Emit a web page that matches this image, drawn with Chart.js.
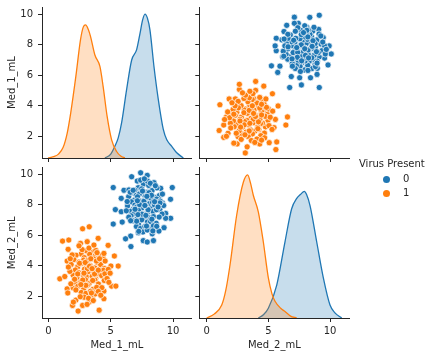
<!DOCTYPE html>
<html><head><meta charset="utf-8">
<script src="https://cdn.jsdelivr.net/npm/chart.js@4"></script>
<style>
html,body{margin:0;padding:0;background:#fff;}
#wrap{position:relative;width:433px;height:357px;overflow:hidden;background:#fff;}
#wrap canvas{position:absolute;left:0;top:0;}
.lg{position:absolute;font-family:"DejaVu Sans";font-size:10px;line-height:12px;color:#262626;white-space:nowrap;}
.dot{position:absolute;width:7px;height:7px;border-radius:50%;}
</style></head>
<body><div id="wrap">
<canvas id="c0" width="433" height="357"></canvas>
<canvas id="c1" width="433" height="357"></canvas>
<canvas id="c2" width="433" height="357"></canvas>
<canvas id="c3" width="433" height="357"></canvas>
</div>
<script>
// ---------------- DATA ----------------
const hueTitle = 'Virus Present';
const hueLevels = ['0', '1'];
const varNames = ['Med_1_mL', 'Med_2_mL'];
const xTickValues = [0, 5, 10];
const yTickValues = [2, 4, 6, 8, 10];
const med1XLimits = [-0.52, 11.50];
const med2XLimits = [-0.60, 11.565];
const med1YLimits = [0.577, 10.48];
const med2YLimits = [0.554, 10.434];
const kdeYLimits = [0, 0.2326];

// class 0 (no virus)
const med1Class0 = [7.40,6.68,7.93,7.80,7.13,8.47,5.20,9.94,9.01,6.06,6.46,5.84,9.80,9.14,5.37,5.84,9.41,9.81,9.41,5.20,5.92,9.28,8.87,8.33,7.21,6.60,6.19,7.61,7.93,8.43,6.62,
 7.62,7.21,8.05,6.93,7.48,7.86,8.32,8.71,6.72,7.05, 7.31,7.77,8.08,8.54,8.90,6.44,6.91,7.15,7.60,7.97,
 8.22,8.69,8.97,6.66,6.94,7.38,7.63,8.07,8.36,8.83, 6.35,6.82,7.08,7.51,7.79,8.24,8.51,8.94,6.59,6.87,
 7.22,7.66,7.93,8.40,8.67,9.12,6.63,7.09,7.46,7.71, 8.17,8.43,8.89,6.79,7.23,7.49,7.94,8.20,8.65,7.06,
 7.39,7.74,8.09,8.43,7.58,7.93,6.32,9.25,7.66,7.31, 8.00,7.50,7.82,8.27,7.14,7.95,7.40,8.18,6.57,8.95,
 6.45,8.69,7.25,8.38,6.80,7.74,7.90,7.18,8.52,6.95, 7.70,8.58,6.25,9.15,7.55,8.30,7.08,7.87,8.80,6.60];
const med2Class0 = [10.10,9.84,9.93,9.62,9.56,9.45,9.13,9.13,9.08,8.95,8.97,8.42,8.36,8.13,7.68,7.54,7.43,7.11,7.11,6.73,6.86,6.49,6.27,6.09,6.16,5.94,5.76,5.64,5.55,5.64,5.25,
 9.36,9.12,9.27,8.96,9.04,8.81,8.93,9.11,8.79,8.62, 8.71,8.55,8.79,8.49,8.60,8.53,8.31,8.52,8.27,8.46,
 8.42,8.37,8.24,8.19,7.98,8.23,8.09,8.06,8.15,8.11, 7.92,7.71,7.84,7.80,7.95,7.73,7.99,7.68,7.57,7.41,
 7.63,7.36,7.48,7.56,7.67,7.39,7.27,7.05,7.33,7.17, 7.14,7.22,7.19,6.94,6.72,7.01,6.86,6.89,6.78,6.57,
 6.44,6.58,6.47,6.61,6.21,6.34,8.21,7.95,8.22,8.01, 7.67,7.38,7.30,8.62,8.26,9.55,9.62,9.41,8.82,8.12,
 7.18,6.58,6.25,6.28,8.95,7.95,8.55,7.35,8.20,7.70, 9.70,9.25,7.60,8.70,8.90,7.05,6.92,6.60,7.85,6.95];
// class 1 (virus present)
const med1Class1 = [2.74,3.27,1.13,1.63,3.99,4.79,2.57,3.11,1.58,1.50,5.29,5.60,5.01,0.91,1.31,1.50,1.98,2.20,1.93,2.74,2.38,4.07,3.27,3.59,4.45,4.45,5.07,5.41,4.61,3.06,
 3.05,2.62,3.48,2.21,2.87,3.31,3.74,4.12,2.04,2.45, 2.83,3.12,3.63,3.91,4.39,1.82,2.34,2.61,3.07,3.35,
 3.72,4.19,4.47,2.16,2.43,2.89,3.18,3.65,3.94,4.41, 1.99,2.28,2.76,3.04,3.51,3.79,4.27,4.53,2.14,2.61,
 2.97,3.26,3.73,4.01,4.48,2.36,2.83,3.11,3.58,3.87, 4.29,2.63,3.01,3.38,3.76,2.86,3.22,1.72,4.70,3.12,
 2.75,3.55,3.40,2.50,3.85,2.95,1.80,4.85,2.20,4.00, 3.25,2.70,3.80,4.45,1.60,4.80,2.35,3.70,3.00,3.45,
 2.55,4.20,1.90,3.90,2.85,3.30,2.10,4.00,3.60,2.45, 3.65,4.55,1.55,4.95,3.10,2.00,3.50,2.60,4.10,1.75];
const med2Class1 = [6.42,6.55,5.61,5.68,5.79,5.33,5.46,5.57,5.07,4.30,4.63,3.97,3.97,3.13,3.28,2.47,2.54,1.73,1.38,1.38,1.01,1.07,1.60,2.04,1.82,2.32,2.65,2.65,3.09,2.11,
 4.97,4.76,4.89,4.68,4.52,4.74,4.61,4.66,4.39,4.23, 4.36,4.31,4.44,4.19,4.47,4.07,3.91,4.13,3.97,4.00,
 3.84,4.06,3.81,3.71,3.53,3.76,3.60,3.63,3.47,3.69, 3.36,3.19,3.41,3.26,3.29,3.13,3.34,3.46,2.91,2.93,
 3.06,2.81,3.04,2.79,3.02,2.64,2.47,2.70,2.44,2.57, 2.55,2.23,2.17,2.31,2.14,1.92,1.85,3.62,3.15,3.78,
 3.05,3.02,4.45,4.15,4.30,4.20,2.80,2.90,2.40,2.30, 5.15,5.05,5.00,4.80,3.90,3.75,3.45,3.45,2.70,2.20,
 1.95,2.05,4.70,4.85,3.50,3.95,3.10,3.70,1.70,5.30, 5.35,4.30,2.20,3.50,1.45,1.60,3.80,2.75,4.45,4.45];

// KDE curves
const kdeMed1Class0X = [4.53,5.0,5.33,5.6,5.87,6.27,6.68,7.08,7.35,7.55,7.75,7.95,8.15,8.47,8.82,9.22,9.5,9.9,10.3,10.83];
const kdeMed1Class0Y = [0,0.006,0.018,0.031,0.054,0.105,0.151,0.167,0.192,0.212,0.2215,0.215,0.197,0.141,0.090,0.044,0.028,0.018,0.008,0];
const kdeMed1Class1X = [-0.03,0.4,0.8,1.17,1.5,1.79,2.2,2.57,2.8,2.98,3.2,3.38,3.72,4.13,4.39,4.71,5.07,5.47,5.8,6.14];
const kdeMed1Class1Y = [0,0.002,0.006,0.016,0.038,0.070,0.126,0.182,0.202,0.205,0.198,0.187,0.159,0.141,0.110,0.064,0.028,0.010,0.003,0];
const kdeMed2Class0X = [4.19,4.6,5.0,5.68,6.35,6.89,7.3,7.6,7.92,8.1,8.38,8.92,9.46,10.0,10.4,10.95];
const kdeMed2Class0Y = [0,0.005,0.015,0.051,0.118,0.169,0.185,0.191,0.196,0.191,0.174,0.118,0.062,0.020,0.008,0];
const kdeMed2Class1X = [0.0,0.6,1.22,1.55,1.89,2.43,2.97,3.32,3.55,3.78,4.19,4.59,5.0,5.3,5.54,6.0,6.35,6.8,7.3];
const kdeMed2Class1Y = [0,0.006,0.020,0.043,0.082,0.159,0.210,0.2215,0.209,0.190,0.164,0.118,0.062,0.037,0.026,0.015,0.010,0.003,0];

// ---------------- STYLE / LAYOUT ----------------
const W = 433, H = 357;
const palette = ['#1f77b4', '#ff7f0e'];
const fills = ['rgba(31,119,180,0.25)', 'rgba(255,127,14,0.25)'];
const ink = '#262626';
const FONT = {family: 'DejaVu Sans', size: 10};
const colBox = [{l: 42, r: 191.7}, {l: 199.3, r: 349.3}];
const rowBox = [{t: 7, b: 158}, {t: 167.7, b: 318}];

const vars = [
  {name: varNames[0], xlim: med1XLimits, ylim: med1YLimits, vals: [med1Class0, med1Class1],
   kde: [[kdeMed1Class0X, kdeMed1Class0Y], [kdeMed1Class1X, kdeMed1Class1Y]]},
  {name: varNames[1], xlim: med2XLimits, ylim: med2YLimits, vals: [med2Class0, med2Class1],
   kde: [[kdeMed2Class0X, kdeMed2Class0Y], [kdeMed2Class1X, kdeMed2Class1Y]]}
];

function zeroPad(s) { s.paddingLeft = 0; s.paddingRight = 0; s.paddingTop = 0; s.paddingBottom = 0; }

function makePanel(canvasId, col, row) {
  const cb = colBox[col], rb = rowBox[row];
  const vx = vars[col], vy = vars[row];
  const YW = col === 0 ? cb.l : 10;
  const XH = row === 1 ? H - rb.b : 10;
  const diag = col === row;
  const datasets = [];
  if (diag) {
    [1, 0].forEach(k => {
      const [xs, ys] = vx.kde[k];
      datasets.push({
        data: xs.map((x, i) => ({x, y: ys[i]})),
        yAxisID: 'yk', showLine: true, fill: 'origin',
        borderColor: palette[k], backgroundColor: fills[k], borderWidth: 1.3,
        pointRadius: 0, cubicInterpolationMode: 'monotone'
      });
    });
  } else {
    [0, 1].forEach(k => {
      datasets.push({
        data: vx.vals[k].map((x, i) => ({x, y: vy.vals[k][i]})),
        yAxisID: 'y', showLine: false,
        backgroundColor: palette[k], borderColor: '#ffffff', borderWidth: 0.7,
        pointRadius: 3.1, pointHoverRadius: 3.1
      });
    });
  }
  const commonGrid = {display: true, drawOnChartArea: false, drawTicks: true, tickLength: 4, tickWidth: 1, tickColor: ink};
  const scales = {
    x: {
      type: 'linear', position: 'bottom', min: vx.xlim[0], max: vx.xlim[1],
      afterBuildTicks: s => { s.ticks = xTickValues.map(v => ({value: v})); },
      afterFit: s => { s.height = XH; zeroPad(s); },
      grid: commonGrid, border: {display: true, color: ink, width: 1},
      ticks: {display: row === 1, padding: 3, color: ink, font: FONT, maxRotation: 0, autoSkip: false, callback: v => String(v)},
      title: {display: row === 1, text: vx.name, color: ink, font: FONT, padding: {top: 0, bottom: 6}}
    },
    y: {
      type: 'linear', position: 'left', min: vy.ylim[0], max: vy.ylim[1],
      afterBuildTicks: s => { s.ticks = yTickValues.map(v => ({value: v})); },
      afterFit: s => { s.width = YW; zeroPad(s); },
      grid: commonGrid, border: {display: true, color: ink, width: 1},
      ticks: {display: col === 0, padding: 5, color: ink, font: FONT, autoSkip: false, callback: v => String(v)},
      title: {display: col === 0, text: vy.name, color: ink, font: FONT, padding: {top: 6, bottom: 0}}
    }
  };
  if (diag) scales.yk = {type: 'linear', display: false, min: kdeYLimits[0], max: kdeYLimits[1]};
  return new Chart(document.getElementById(canvasId), {
    type: 'scatter',
    data: {datasets},
    options: {
      responsive: false, animation: false, devicePixelRatio: 1, events: [],
      layout: {autoPadding: false, padding: {left: cb.l - YW, top: rb.t, right: W - cb.r, bottom: H - rb.b - XH}},
      plugins: {legend: {display: false}, tooltip: {enabled: false}},
      scales
    }
  });
}

makePanel('c0', 0, 0);
makePanel('c1', 1, 0);
makePanel('c2', 0, 1);
makePanel('c3', 1, 1);

// legend (HTML text)
const wrap = document.getElementById('wrap');
const t = document.createElement('div');
t.className = 'lg'; t.textContent = hueTitle; t.style.left = '359px'; t.style.top = '158px';
wrap.appendChild(t);
hueLevels.forEach((lv, k) => {
  const cy = 179.5 + k * 14.2;
  const d = document.createElement('div');
  d.className = 'dot'; d.style.background = palette[k];
  d.style.left = (386.2 - 3.5) + 'px'; d.style.top = (cy - 3.5) + 'px';
  wrap.appendChild(d);
  const l = document.createElement('div');
  l.className = 'lg'; l.textContent = lv; l.style.left = '403px'; l.style.top = (cy - 6.5) + 'px';
  wrap.appendChild(l);
});
</script>
</body></html>
